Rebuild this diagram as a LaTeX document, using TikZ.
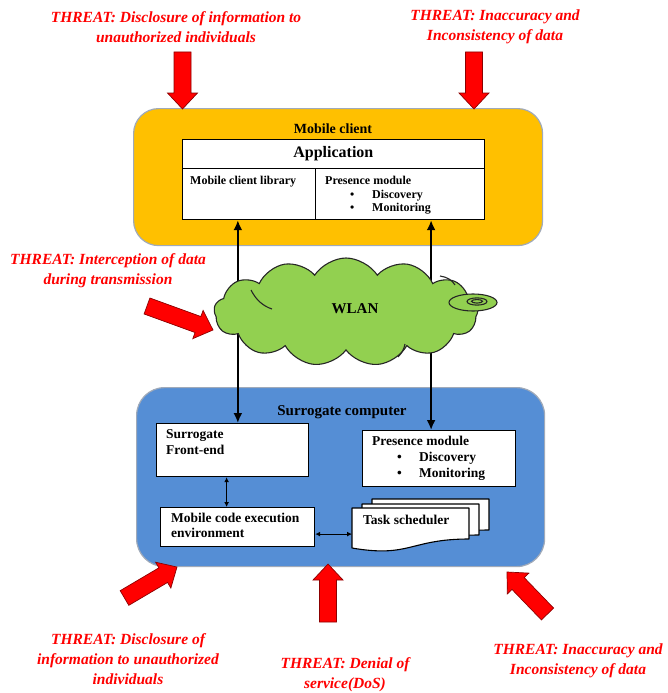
\documentclass[tikz,border=0pt]{standalone}
\usepackage{fontspec}
\setmainfont{Liberation Serif}
\usetikzlibrary{shapes.symbols,calc,arrows.meta}

\definecolor{clientorange}{RGB}{255,192,0}
\definecolor{wlangreen}{RGB}{146,208,80}
\definecolor{surrblue}{RGB}{85,142,213}
\definecolor{threatred}{RGB}{255,0,0}
\definecolor{rimgray}{RGB}{160,170,185}

\tikzset{
  threattext/.style={text=threatred, font=\fontsize{15.5}{20}\selectfont\bfseries\itshape,
    align=center, inner sep=0},
  threatfill/.style={fill=threatred, draw=threatred!55!black, line width=0.7pt, line join=miter},
  cell/.style={draw, fill=white, line width=1.2pt, inner sep=0, anchor=north west},
  celltext/.style={font=\fontsize{12}{13.5}\selectfont\bfseries, align=left, inner sep=0,
    anchor=north west},
  boxtext/.style={font=\fontsize{13.5}{16}\selectfont\bfseries, align=left, inner sep=0,
    anchor=north west},
  link/.style={line width=2.4pt, {Latex[length=10pt,width=9pt]}-{Latex[length=10pt,width=9pt]}},
  thinlink/.style={line width=1pt, {Latex[length=5pt,width=5pt]}-{Latex[length=5pt,width=5pt]}},
  docpage/.style={draw, fill=white, line width=1.1pt, line join=round},
  cloudline/.style={draw=black!85, line width=1.1pt},
}

% block arrow from tail coordinate #1 to tip coordinate #2
\newcommand\blockarrow[2]{%
  \path ($(#2)!16pt!(#1)$) coordinate (hb);
  \filldraw[threatfill]
    ($(#1)!8.5pt!90:(#2)$) -- ($(hb)!8.5pt!90:(#2)$) -- ($(hb)!15pt!90:(#2)$) -- (#2)
    -- ($(hb)!15pt!-90:(#2)$) -- ($(hb)!8.5pt!-90:(#2)$) -- ($(#1)!8.5pt!-90:(#2)$) -- cycle;
}

% one page of the stacked document shape, top-left corner (#1,#2)
\newcommand\docpage[2]{%
  \filldraw[docpage] (#1,#2) -- (#1+117,#2) -- (#1+117,#2+31)
    .. controls (#1+58,#2+31) and (#1+58,#2+50) .. (#1,#2+40) -- cycle;
}

\begin{document}
\begin{tikzpicture}[x=1pt,y=-1pt]
\useasboundingbox (0,0) rectangle (667,693);

% ---------------- mobile client ----------------
\node[draw=rimgray, line width=1.2pt, fill=clientorange, rounded corners=25pt,
  minimum width=409, minimum height=137, anchor=north west, inner sep=0] (client) at (133,108) {};
\node[font=\fontsize{14}{16}\selectfont\bfseries, inner sep=0] (clientlbl) at (333,129) {Mobile client};

\node[cell, minimum width=302.5, minimum height=29,
  font=\fontsize{16}{18}\selectfont\bfseries] (app) at (181.5,139) {Application};
\node[cell, minimum width=133.5, minimum height=51] (lib) at (181.5,168) {};
\node[cell, minimum width=169, minimum height=51] (pres) at (315,168) {};
\node[celltext] (libtxt) at (190,176) {Mobile client library};
\node[celltext] (prestxt) at (325,176) {Presence module\\
  \hspace*{25pt}\makebox[22pt][l]{\textbullet}Discovery\\
  \hspace*{25pt}\makebox[22pt][l]{\textbullet}Monitoring};

% ---------------- surrogate computer ----------------
\node[draw=rimgray, line width=1.2pt, fill=surrblue, rounded corners=28pt,
  minimum width=408, minimum height=179, anchor=north west, inner sep=0] (surr) at (136,387) {};
\node[font=\fontsize{15}{17}\selectfont\bfseries, inner sep=0] (surrlbl) at (342,412) {Surrogate computer};

\node[cell, minimum width=152, minimum height=53] (fe) at (156,423) {};
\node[boxtext] (fetxt) at (166,429) {Surrogate\\Front-end};

\node[cell, minimum width=153, minimum height=56] (pres2) at (362,430) {};
\node[boxtext] (pres2txt) at (372,436) {Presence module\\
  \hspace*{25pt}\makebox[22pt][l]{\textbullet}Discovery\\
  \hspace*{25pt}\makebox[22pt][l]{\textbullet}Monitoring};

\node[cell, minimum width=154, minimum height=39] (mcee) at (160,507) {};
\node[boxtext, font=\fontsize{13.5}{14.5}\selectfont\bfseries] (mceetxt) at (171,513)
  {Mobile code execution\\environment};

% task scheduler: three stacked pages, front page last
\docpage{372}{499}
\docpage{362}{504}
\docpage{352}{508}
\node[minimum width=117, minimum height=40, anchor=north west, inner sep=0] (task) at (352,508) {};
\node[boxtext] (tasktxt) at (363,515) {Task scheduler};

% ---------------- connectors ----------------
\draw[link] ([xshift=-11pt]lib.south) -- ([xshift=-11pt]lib.south |- fe.north);
\draw[link] ([xshift=31pt]pres.south) -- ([xshift=31pt]pres.south |- pres2.north);
\draw[thinlink] ([xshift=-6pt]fe.south) -- ([xshift=-6pt]fe.south |- mcee.north);
\draw[thinlink] ([yshift=-7pt]mcee.east) -- ([yshift=-7pt]mcee.east -| task.west);

% ---------------- WLAN cloud ----------------
\node[cloud, cloud puffs=13, cloud puff arc=115, aspect=2.4, cloudline,
  fill=wlangreen, minimum width=264, minimum height=108, inner sep=0] (wlan) at (346,312) {};
% inner fold lines of the cloud
\draw[cloudline] (251,290) .. controls (256,300) and (263,306) .. (272,309);
\draw[cloudline] (440,276) .. controls (447,277) and (452,280) .. (455,285);
\draw[cloudline] (398,357) .. controls (402,353) and (404,349) .. (405,344);
% the radio tail on the right
\filldraw[fill=wlangreen, cloudline] (473,302.5) ellipse [x radius=24, y radius=8.5];
\draw[cloudline] (477,301.5) ellipse [x radius=10, y radius=3.6];
\draw[cloudline] (477,301.3) ellipse [x radius=5.5, y radius=1.8];
\node[font=\fontsize{15}{17}\selectfont\bfseries, inner sep=0] (wlanlbl) at (355,309) {WLAN};

% ---------------- threats ----------------
\node[threattext] (t1) at (176,27) {THREAT: Disclosure of information to\\unauthorized individuals};
\node[threattext] (t2) at (495,27) {THREAT: Inaccuracy and\\Inconsistency of data};
\node[threattext] (t3) at (108,271) {THREAT: Interception of data\\during transmission};
\node[threattext] (t4) at (128,659) {THREAT: Disclosure of\\information to unauthorized\\individuals};
\node[threattext] (t5) at (345,675) {THREAT: Denial of\\service(DoS)};
\node[threattext] (t6) at (578,661) {THREAT: Inaccuracy and\\Inconsistency of data};

\coordinate (a1s) at (182.5,52);  \coordinate (a1e) at (182.5,109);
\coordinate (a2s) at (474,52);    \coordinate (a2e) at (474,109);
\coordinate (a3s) at (147,306);   \coordinate (a3e) at (213,330);
\coordinate (a4s) at (124.5,598); \coordinate (a4e) at (177,567);
\coordinate (a5s) at (328,622);   \coordinate (a5e) at (328,564);
\coordinate (a6s) at (547.5,614); \coordinate (a6e) at (507,572);
\blockarrow{a1s}{a1e}
\blockarrow{a2s}{a2e}
\blockarrow{a3s}{a3e}
\blockarrow{a4s}{a4e}
\blockarrow{a5s}{a5e}
\blockarrow{a6s}{a6e}
\end{tikzpicture}
\end{document}
